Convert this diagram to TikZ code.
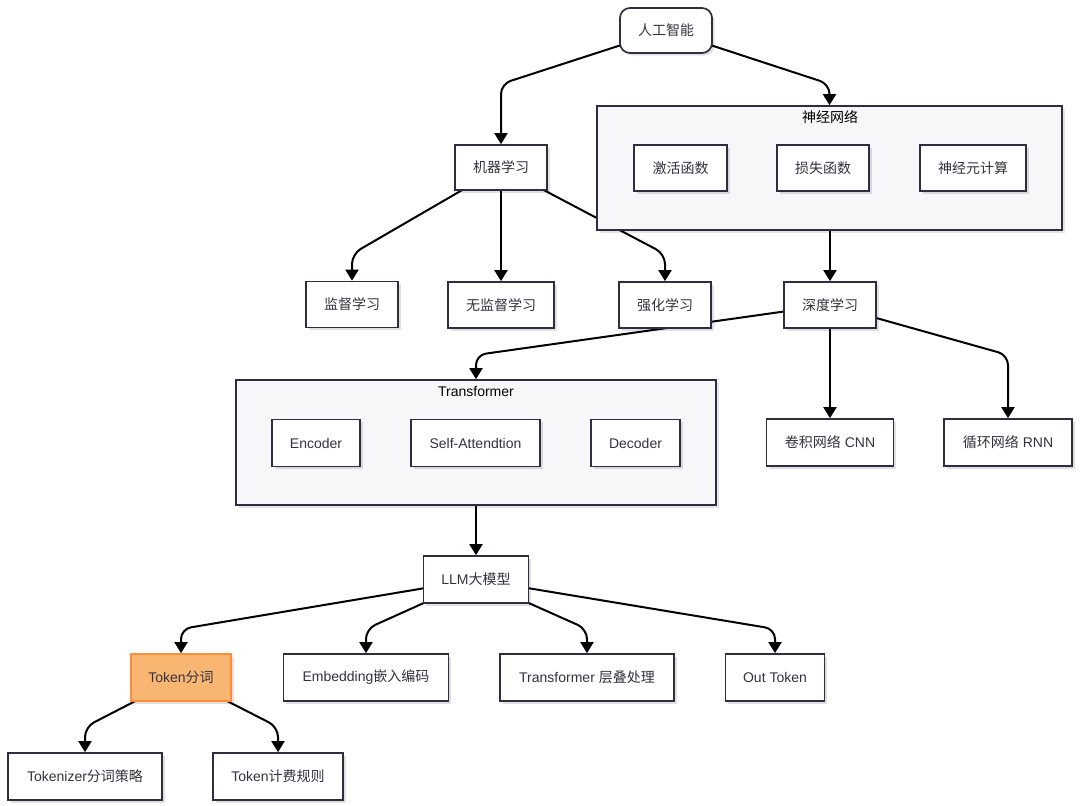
\documentclass[tikz,border=0pt]{standalone}
\usepackage{fontspec}
\setmainfont{Liberation Sans}
\newfontfamily\cjk{Noto Sans CJK SC}
\usetikzlibrary{arrows.meta,shadows}
\pgfdeclarelayer{bg}
\pgfsetlayers{bg,main}
\definecolor{bordc}{HTML}{2E2E42}
\definecolor{txtc}{HTML}{333340}
\definecolor{contfill}{HTML}{F7F7FA}
\definecolor{tokfill}{HTML}{F9B673}
\definecolor{tokbord}{HTML}{FF8C3A}
\begin{document}
\begin{tikzpicture}[x=1pt,y=-1pt,
 box/.style={draw=bordc, line width=1.7pt, fill=white, text=txtc,
   font=\fontsize{14}{16}\selectfont, inner sep=0pt, minimum height=46pt,
   drop shadow={shadow xshift=2.5pt, shadow yshift=-2.5pt, opacity=0.12, fill=black}},
 cont/.style={draw=bordc, line width=1.7pt, fill=contfill, inner sep=0pt,
   drop shadow={shadow xshift=2.5pt, shadow yshift=-2.5pt, opacity=0.10, fill=black}},
 ttl/.style={font=\fontsize{14}{16}\selectfont, text=black, inner sep=0pt},
 edge/.style={line width=2pt, draw=black, -{Triangle[width=13pt,length=11pt]}, rounded corners=10pt}
]
\useasboundingbox (0,0) rectangle (1080,806);

% top
\node[box, rounded corners=10pt, minimum width=92pt, minimum height=45pt] (ai) at (666,30.5) {\cjk 人工智能};
\node[box, minimum width=92pt, minimum height=45pt] (ml) at (501,167.5) {\cjk 机器学习};

% neural network container
\node[cont, minimum width=465pt, minimum height=124pt] (nn) at (829.5,168) {};
\node[ttl] (nnt) at (830,117) {\cjk 神经网络};
\node[box, minimum width=93pt] (act) at (680.5,168) {\cjk 激活函数};
\node[box, minimum width=92pt] (loss) at (823,168) {\cjk 损失函数};
\node[box, minimum width=106pt] (neu) at (973,168) {\cjk 神经元计算};

% second row
\node[box, minimum width=92pt] (sup) at (352,304.5) {\cjk 监督学习};
\node[box, minimum width=106pt] (unsup) at (501,305) {\cjk 无监督学习};
\node[box, minimum width=92pt] (rl) at (665,305) {\cjk 强化学习};
\node[box, minimum width=92pt] (dl) at (830,305) {\cjk 深度学习};

% transformer container
\node[cont, minimum width=480pt, minimum height=125pt] (tf) at (476,442.5) {};
\node[ttl] (tft) at (476,391) {Transformer};
\node[box, minimum width=88pt, minimum height=47pt] (enc) at (316,443) {Encoder};
\node[box, minimum width=129pt, minimum height=47pt] (sa) at (475.5,443) {Self-Attendtion};
\node[box, minimum width=89pt, minimum height=47pt] (dec) at (635.5,443) {Decoder};
\node[box, minimum width=127pt, minimum height=47pt] (cnn) at (830,442.5) {{\cjk 卷积网络} CNN};
\node[box, minimum width=128pt, minimum height=47pt] (rnn) at (1008,442.5) {{\cjk 循环网络} RNN};

% LLM
\node[box, minimum width=105pt, minimum height=47pt] (llm) at (476,579.5) {LLM{\cjk 大模型}};
\node[box, minimum width=100pt, minimum height=47pt, fill=tokfill, draw=tokbord] (tok) at (181,677.5) {Token{\cjk 分词}};
\node[box, minimum width=165pt, minimum height=47pt] (emb) at (366,677.5) {Embedding{\cjk 嵌入编码}};
\node[box, minimum width=174pt, minimum height=47pt] (trl) at (587,677.5) {Transformer {\cjk 层叠处理}};
\node[box, minimum width=99pt, minimum height=47pt] (out) at (775,677.5) {Out Token};
\node[box, minimum width=154pt, minimum height=47pt] (tkz) at (85,776.5) {Tokenizer{\cjk 分词策略}};
\node[box, minimum width=130pt, minimum height=47pt] (bill) at (278,776.5) {Token{\cjk 计费规则}};

\begin{pgfonlayer}{bg}
\fill[white] (0,0) rectangle (1080,806);
\draw[edge] (ai.center) -- (ml.north |- 0,84) -- (ml.north);
\draw[edge] (ai.center) -- (nn.north |- 0,84) -- (nn.north);
\draw[edge] (ml.center) -- (sup.north |- 0,254) -- (sup.north);
\draw[edge] (ml.south -| unsup.north) -- (unsup.north);
\draw[edge] (ml.center) -- (rl.north |- 0,254) -- (rl.north);
\draw[edge] (nn.south -| dl.north) -- (dl.north);
\draw[edge] (dl.center) -- (tf.north |- 0,355) -- (tf.north);
\draw[edge] (dl.south -| cnn.north) -- (cnn.north);
\draw[edge] (dl.center) -- (rnn.north |- 0,355) -- (rnn.north);
\draw[edge] (tf.south -| llm.north) -- (llm.north);
\draw[edge] (llm.center) -- (tok.north |- 0,629) -- (tok.north);
\draw[edge] (llm.center) -- (emb.north |- 0,629) -- (emb.north);
\draw[edge] (llm.center) -- (trl.north |- 0,629) -- (trl.north);
\draw[edge] (llm.center) -- (out.north |- 0,629) -- (out.north);
\draw[edge] (tok.center) -- (tkz.north |- 0,727) -- (tkz.north);
\draw[edge] (tok.center) -- (bill.north |- 0,727) -- (bill.north);
\end{pgfonlayer}
\end{tikzpicture}
\end{document}
